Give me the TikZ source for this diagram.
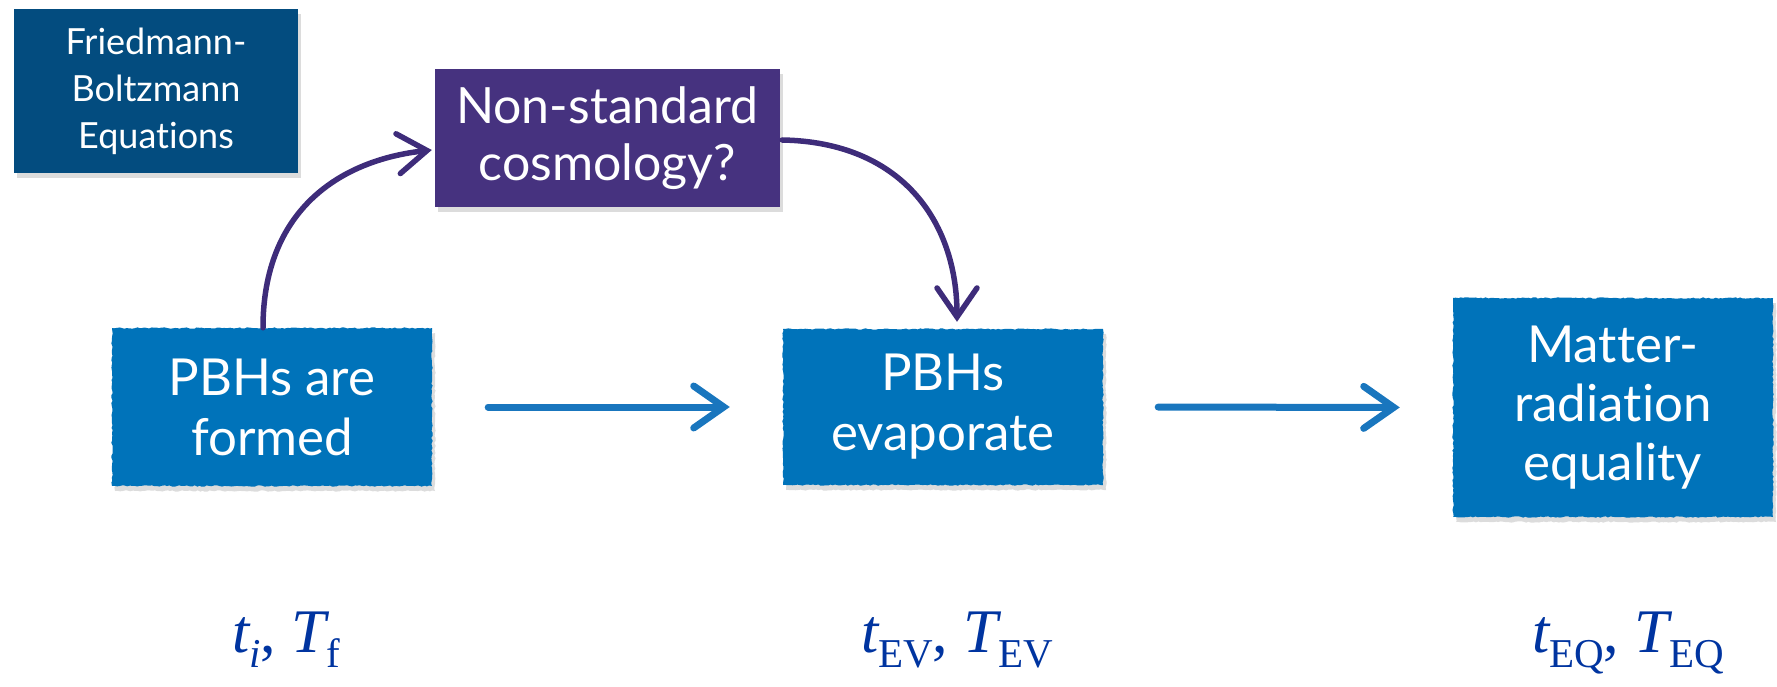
\documentclass[tikz,border=0pt]{standalone}
\usepackage{fontspec}
\setmainfont{Lato}[Ligatures={NoCommon}]
\newfontfamily\labelfont{Liberation Serif}
\usetikzlibrary{arrows.meta,shadows,decorations.pathmorphing}

\definecolor{fbblue}{RGB}{3,76,127}
\definecolor{nspurple}{RGB}{70,50,127}
\definecolor{boxblue}{RGB}{0,115,186}
\definecolor{flowblue}{RGB}{25,118,190}
\definecolor{bendpurple}{RGB}{62,44,122}
\definecolor{labelblue}{RGB}{0,52,160}

% lowered subscript for the time/temperature labels
\newcommand\lsub[1]{\raisebox{-15pt}{\fontsize{41}{41}\selectfont #1}}

\tikzset{
  box/.style={fill=#1, text=white, align=center, inner sep=0pt,
    drop shadow={opacity=0.28, shadow xshift=3pt, shadow yshift=-5pt}},
  rough/.style={decorate, decoration={random steps, segment length=2.5pt, amplitude=0.7pt}},
  flow/.style={line width=7pt, draw=flowblue, line cap=round,
    -{Straight Barb[length=30pt, width=42pt, line cap=round]}},
  bendarrow/.style={line width=5.5pt, draw=bendpurple, line cap=round,
    -{Straight Barb[length=29pt, width=40pt, line cap=round]}},
  lab/.style={text=labelblue, font=\labelfont\fontsize{62}{62}\selectfont, anchor=base, inner sep=0pt}
}

\begin{document}
\pgfmathsetseed{7}
\begin{tikzpicture}[x=1pt, y=-1pt]
  \useasboundingbox (0,0) rectangle (1777,687);

  % boxes
  \node[box=fbblue, minimum width=284pt, minimum height=164pt,
        font=\fontsize{36}{47}\selectfont] (fb) at (156,91)
        {Friedmann-\\Boltzmann\\Equations};
  \node[box=nspurple, minimum width=345pt, minimum height=138pt,
        font=\fontsize{50}{57}\selectfont] (ns) at (607.5,138)
        {Non-standard\\cosmology?};
  \node[box=boxblue, rough, minimum width=320pt, minimum height=158pt,
        font=\fontsize{51}{60}\selectfont] (pf) at (272,407)
        {PBHs are\\formed};
  \node[box=boxblue, rough, minimum width=320pt, minimum height=156pt,
        font=\fontsize{51}{60}\selectfont] (pe) at (943,407)
        {PBHs\\evaporate};
  \node[box=boxblue, rough, minimum width=320pt, minimum height=219pt,
        font=\fontsize{51}{59}\selectfont] (mr) at (1613,407.5)
        {Matter-\\radiation\\equality};

  % straight flow arrows
  \draw[flow, shorten <=56pt, shorten >=53pt] (pf.east) -- (pe.west);
  \draw[flow, shorten <=55pt, shorten >=53pt] (pe.east) -- (mr.west);

  % curved arrows through the cosmology box
  \coordinate (aend) at ([xshift=-3pt, yshift=-12pt]ns.west);
  \coordinate (bend) at ([xshift=14pt, yshift=7pt]pe.north);
  \draw[bendarrow] ([xshift=-9pt]pf.north) .. controls (263,210) and (340,160) .. (aend);
  \draw[bendarrow] ([xshift=2pt, yshift=-2pt]ns.east) .. controls (900,142) and (957,220) .. (bend);

  % time and temperature labels
  \node[lab] (l1) at (286,652) {{\itshape t}\lsub{\itshape i}, {\itshape T}\lsub{f}};
  \node[lab] (l2) at (957,652) {{\itshape t}\lsub{EV}, {\itshape T}\lsub{EV}};
  \node[lab] (l3) at (1628,652) {{\itshape t}\lsub{EQ}, {\itshape T}\lsub{EQ}};
\end{tikzpicture}
\end{document}
